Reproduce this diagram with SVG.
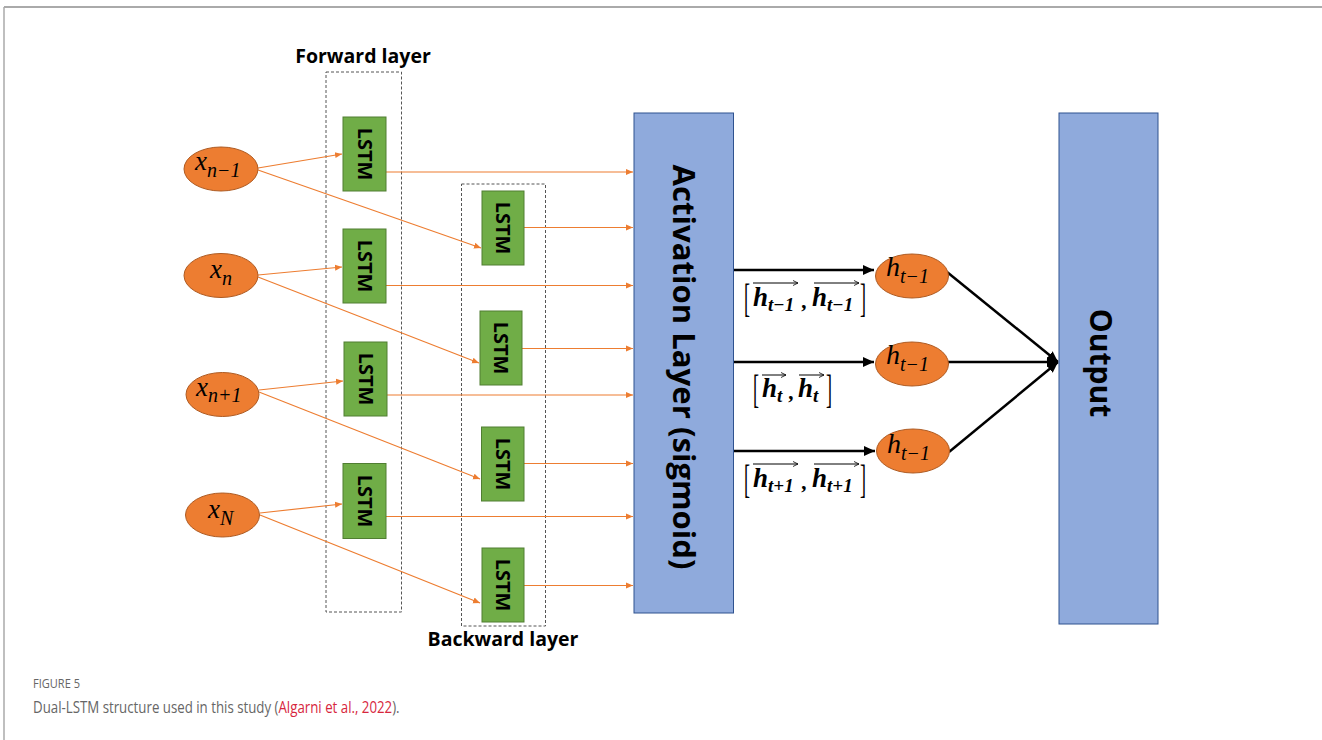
<svg xmlns="http://www.w3.org/2000/svg" width="1322" height="740" viewBox="0 0 1322 740">
<defs>
<marker id="oa" markerWidth="8" markerHeight="8" refX="7" refY="4" orient="auto" markerUnits="userSpaceOnUse"><path d="M0,1 L7,4 L0,7 z" fill="#ED7D31"/></marker>
<marker id="ba" markerWidth="12" markerHeight="12" refX="11" refY="6" orient="auto" markerUnits="userSpaceOnUse"><path d="M0,1 L11,6 L0,11 z" fill="#000"/></marker>
<marker id="sa" markerWidth="6" markerHeight="6" refX="5" refY="3" orient="auto" markerUnits="userSpaceOnUse"><path d="M0,0.5 L5,3 L0,5.5" fill="none" stroke="#000" stroke-width="0.8"/></marker>
<style>
.dash{fill:none;stroke:#555;stroke-width:1;stroke-dasharray:3,2}
.lstm{fill:#70AD47;stroke:#507E32;stroke-width:1}
.lt{font-family:"Open Sans","Liberation Sans",sans-serif;font-weight:bold;font-size:20px;fill:#000}
.inp{fill:#ED7D31;stroke:#AE5A21;stroke-width:1}
.math{font-family:"Liberation Serif","DejaVu Serif",serif;font-style:italic;fill:#000}
.bm{font-family:"Liberation Serif","DejaVu Serif",serif;font-style:italic;font-weight:bold;fill:#000}
.br{font-family:"Liberation Serif","DejaVu Serif",serif;fill:#000;font-size:40px}
.blue{fill:#8FAADC;stroke:#2F528F;stroke-width:1}
.big{font-family:"Open Sans","Liberation Sans",sans-serif;font-weight:bold;font-size:30px;fill:#000}
.ttl{font-family:"Open Sans","Liberation Sans",sans-serif;font-weight:bold;font-size:19.5px;fill:#000}
.oc{stroke:#ED7D31;stroke-width:1.2;fill:none}
.bc{stroke:#000;stroke-width:2.5;fill:none}
.ov{stroke:#000;stroke-width:1;fill:none}
.cap{font-family:"Open Sans","Liberation Sans",sans-serif;fill:#666}
</style>
</defs>
<rect width="1322" height="740" fill="#fff"/>
<line x1="4" y1="7" x2="1322" y2="7" stroke="#aaa" stroke-width="2"/>
<line x1="4" y1="7" x2="4" y2="740" stroke="#aaa" stroke-width="1.5"/>

<g id="forward-layer">
<rect class="dash" x="326" y="72" width="75.5" height="540"/>
<text class="ttl" x="363" y="63" text-anchor="middle">Forward layer</text>
</g>
<g id="backward-layer">
<rect class="dash" x="461.5" y="184" width="84" height="442"/>
<text class="ttl" x="503" y="646" text-anchor="middle">Backward layer</text>
</g>

<g id="connectors">
<line class="oc" x1="258" y1="168" x2="342" y2="154" marker-end="url(#oa)"/>
<line class="oc" x1="258" y1="170" x2="481" y2="248" marker-end="url(#oa)"/>
<line class="oc" x1="258" y1="275" x2="342" y2="267" marker-end="url(#oa)"/>
<line class="oc" x1="258" y1="277" x2="479" y2="363" marker-end="url(#oa)"/>
<line class="oc" x1="259" y1="390" x2="343" y2="381" marker-end="url(#oa)"/>
<line class="oc" x1="259" y1="392" x2="480" y2="479" marker-end="url(#oa)"/>
<line class="oc" x1="260" y1="513" x2="342" y2="504" marker-end="url(#oa)"/>
<line class="oc" x1="260" y1="515" x2="480" y2="603" marker-end="url(#oa)"/>
<line class="oc" x1="386" y1="172" x2="633" y2="172" marker-end="url(#oa)"/>
<line class="oc" x1="524" y1="227.5" x2="633" y2="227.5" marker-end="url(#oa)"/>
<line class="oc" x1="386" y1="285.5" x2="633" y2="285.5" marker-end="url(#oa)"/>
<line class="oc" x1="522" y1="348.5" x2="633" y2="348.5" marker-end="url(#oa)"/>
<line class="oc" x1="387" y1="395" x2="633" y2="395" marker-end="url(#oa)"/>
<line class="oc" x1="524" y1="463.5" x2="633" y2="463.5" marker-end="url(#oa)"/>
<line class="oc" x1="386" y1="516.5" x2="633" y2="516.5" marker-end="url(#oa)"/>
<line class="oc" x1="524" y1="585.5" x2="633" y2="585.5" marker-end="url(#oa)"/>
<line class="bc" x1="734" y1="270" x2="874" y2="270" marker-end="url(#ba)"/>
<line class="bc" x1="734" y1="362" x2="874" y2="362" marker-end="url(#ba)"/>
<line class="bc" x1="734" y1="451" x2="875" y2="451" marker-end="url(#ba)"/>
<line class="bc" x1="947" y1="272" x2="1058" y2="362" marker-end="url(#ba)"/>
<line class="bc" x1="948" y1="362" x2="1058" y2="362" marker-end="url(#ba)"/>
<line class="bc" x1="949" y1="452" x2="1058" y2="362" marker-end="url(#ba)"/>
</g>

<g id="in-xn-1"><ellipse class="inp" cx="221" cy="169" rx="37" ry="22"/><text class="math" x="195" y="170" font-size="27">x<tspan font-size="20" dy="7">n−1</tspan></text></g>
<g id="in-xn"><ellipse class="inp" cx="221" cy="275.5" rx="37" ry="22"/><text class="math" x="210" y="278" font-size="27">x<tspan font-size="20" dy="7">n</tspan></text></g>
<g id="in-xn1"><ellipse class="inp" cx="222.5" cy="394.5" rx="36.5" ry="22"/><text class="math" x="196" y="396" font-size="27">x<tspan font-size="20" dy="6">n+1</tspan></text></g>
<g id="in-xN"><ellipse class="inp" cx="222.5" cy="515" rx="37" ry="22"/><text class="math" x="208" y="518" font-size="27">x<tspan font-size="20" dy="7">N</tspan></text></g>

<g id="f1"><rect class="lstm" x="343" y="117" width="43" height="74"/><text class="lt" transform="translate(364.5,154) rotate(90)" text-anchor="middle" dy="7">LSTM</text></g>
<g id="f2"><rect class="lstm" x="343" y="229" width="43" height="74"/><text class="lt" transform="translate(364.5,266) rotate(90)" text-anchor="middle" dy="7">LSTM</text></g>
<g id="f3"><rect class="lstm" x="344" y="342" width="43" height="74"/><text class="lt" transform="translate(365.5,379) rotate(90)" text-anchor="middle" dy="7">LSTM</text></g>
<g id="f4"><rect class="lstm" x="343" y="463.5" width="43" height="75"/><text class="lt" transform="translate(364.5,501) rotate(90)" text-anchor="middle" dy="7">LSTM</text></g>
<g id="b1"><rect class="lstm" x="482" y="191" width="42" height="74"/><text class="lt" transform="translate(503,228) rotate(90)" text-anchor="middle" dy="7">LSTM</text></g>
<g id="b2"><rect class="lstm" x="480" y="311" width="42" height="74"/><text class="lt" transform="translate(501,348) rotate(90)" text-anchor="middle" dy="7">LSTM</text></g>
<g id="b3"><rect class="lstm" x="481.5" y="427" width="42.5" height="74"/><text class="lt" transform="translate(503,464) rotate(90)" text-anchor="middle" dy="7">LSTM</text></g>
<g id="b4"><rect class="lstm" x="482" y="548" width="42" height="74"/><text class="lt" transform="translate(503,585) rotate(90)" text-anchor="middle" dy="7">LSTM</text></g>

<g id="activation"><rect class="blue" x="634" y="113" width="99.5" height="500"/><text class="big" transform="translate(683,367) rotate(90)" text-anchor="middle" dy="10" textLength="405" lengthAdjust="spacingAndGlyphs">Activation Layer (sigmoid)</text></g>

<g id="h1"><ellipse class="inp" cx="912" cy="276" rx="36.5" ry="22"/><text class="math" x="886" y="276" font-size="28">h<tspan font-size="20" dy="7">t−1</tspan></text></g>
<g id="h2"><ellipse class="inp" cx="912" cy="364" rx="36.5" ry="22"/><text class="math" x="886" y="364" font-size="28">h<tspan font-size="20" dy="7">t−1</tspan></text></g>
<g id="h3"><ellipse class="inp" cx="913" cy="451" rx="36.5" ry="22"/><text class="math" x="887" y="453" font-size="28">h<tspan font-size="20" dy="7">t−1</tspan></text></g>

<g id="output"><rect class="blue" x="1059" y="113" width="99" height="511"/><text class="big" transform="translate(1100,363) rotate(90)" text-anchor="middle" dy="10">Output</text></g>

<g id="label1">
<text class="br" transform="translate(744,312) scale(0.45,1)">[</text>
<text class="bm" x="753" y="306" font-size="27">h<tspan font-size="19" dy="5">t−1</tspan></text>
<text class="bm" x="802" y="308" font-size="22">,</text>
<text class="bm" x="812" y="306" font-size="27">h<tspan font-size="19" dy="5">t−1</tspan></text>
<text class="br" transform="translate(860,312) scale(0.45,1)">]</text>
<line class="ov" x1="753" y1="283" x2="798" y2="283" marker-end="url(#sa)"/>
<line class="ov" x1="814" y1="283" x2="859" y2="283" marker-end="url(#sa)"/>
</g>
<g id="label2">
<text class="br" transform="translate(753,403) scale(0.45,1)">[</text>
<text class="bm" x="762" y="397" font-size="27">h<tspan font-size="19" dy="5">t</tspan></text>
<text class="bm" x="789" y="399" font-size="22">,</text>
<text class="bm" x="798" y="397" font-size="27">h<tspan font-size="19" dy="5">t</tspan></text>
<text class="br" transform="translate(826,403) scale(0.45,1)">]</text>
<line class="ov" x1="762" y1="375" x2="786" y2="375" marker-end="url(#sa)"/>
<line class="ov" x1="799" y1="375" x2="824" y2="375" marker-end="url(#sa)"/>
</g>
<g id="label3">
<text class="br" transform="translate(744,493) scale(0.45,1)">[</text>
<text class="bm" x="753" y="487" font-size="27">h<tspan font-size="19" dy="5">t+1</tspan></text>
<text class="bm" x="802" y="489" font-size="22">,</text>
<text class="bm" x="812" y="487" font-size="27">h<tspan font-size="19" dy="5">t+1</tspan></text>
<text class="br" transform="translate(860,493) scale(0.45,1)">]</text>
<line class="ov" x1="753" y1="464" x2="798" y2="464" marker-end="url(#sa)"/>
<line class="ov" x1="814" y1="464" x2="859" y2="464" marker-end="url(#sa)"/>
</g>

<g id="caption">
<text class="cap" transform="translate(33,688) scale(0.85,1)" font-size="13">FIGURE 5</text>
<text class="cap" transform="translate(33,713) scale(0.83,1)" font-size="16">Dual-LSTM structure used in this study (<tspan style="fill:#D7263D">Algarni et al., 2022</tspan>).</text>
</g>
</svg>
